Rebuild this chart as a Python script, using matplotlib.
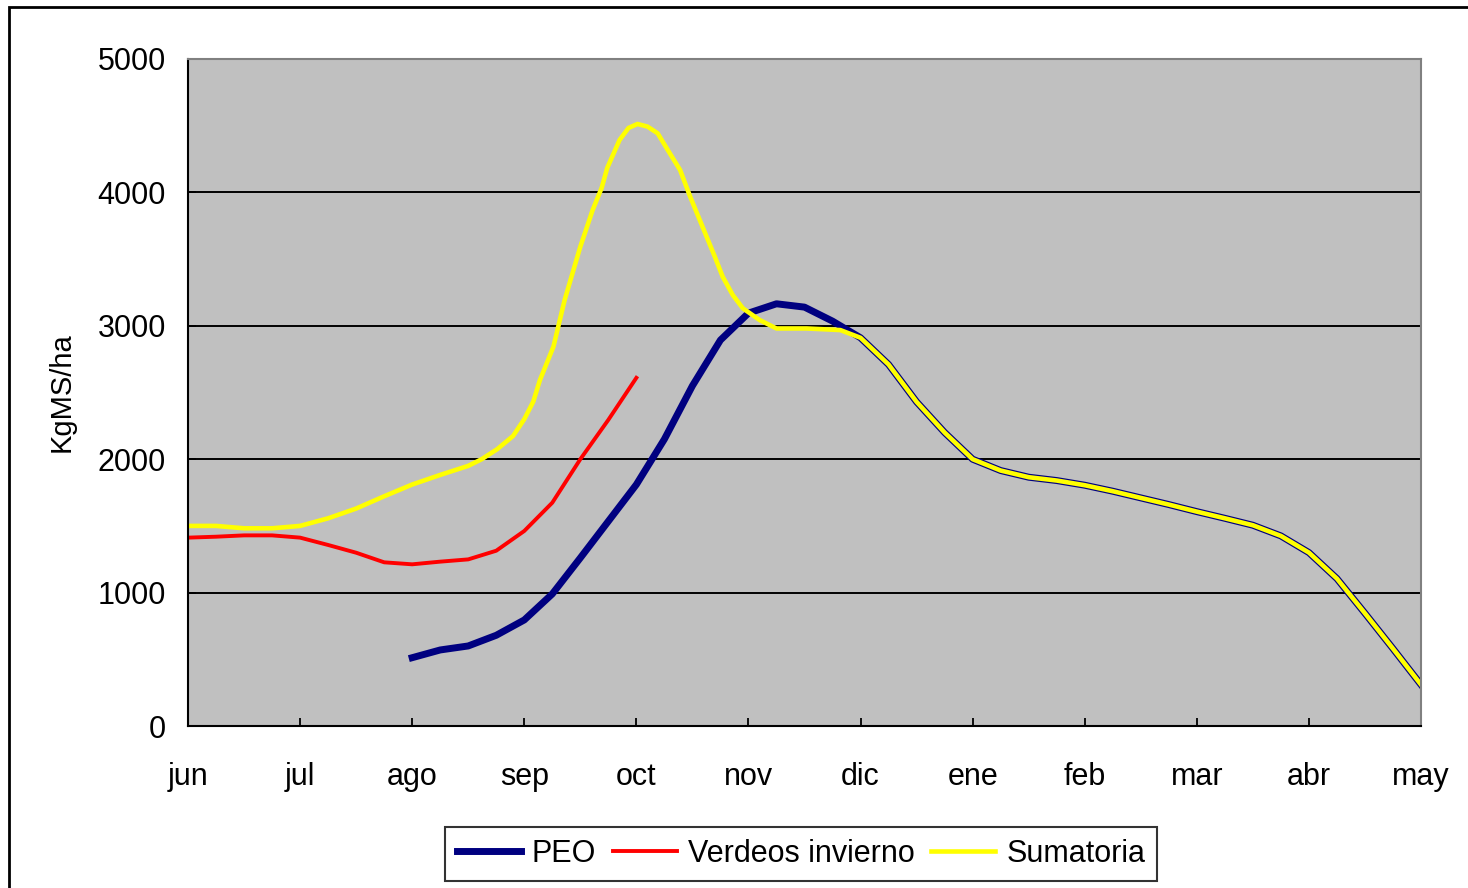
import numpy as np
import matplotlib
matplotlib.use("Agg")
import matplotlib.pyplot as plt

plt.rcParams["font.family"] = ["Liberation Sans", "DejaVu Sans"]

# month axis labels (jun .. may)
months = ["jun", "jul", "ago", "sep", "oct", "nov", "dic",
          "ene", "feb", "mar", "abr", "may"]

# PEO, quarter-month steps from ago to may
peo_x = np.arange(8, 45) / 4
peo_y = [512, 570, 600, 680, 795, 990, 1260, 1535, 1810, 2150, 2550, 2893,
         3095, 3165, 3140, 3035, 2910, 2710, 2430, 2200, 2000, 1915, 1865,
         1840, 1805, 1760, 1710, 1660, 1607, 1557, 1505, 1425, 1300, 1105,
         845, 580, 310]

# Verdeos invierno, quarter-month steps from jun to oct
verdeos_x = np.arange(0, 17) / 4
verdeos_y = [1412, 1419, 1429, 1429, 1412, 1357, 1299, 1227, 1212, 1232,
             1249, 1314, 1462, 1674, 2000, 2295, 2610]

# Sumatoria
suma_x = [0, 0.25, 0.5, 0.75, 1.0, 1.25, 1.5, 1.75, 2.0, 2.25, 2.5, 2.62,
          2.76, 2.9, 3.0, 3.08, 3.14, 3.26, 3.36, 3.5, 3.61, 3.69, 3.74,
          3.85, 3.93, 4.01, 4.1, 4.19, 4.28, 4.39, 4.48, 4.59, 4.7, 4.77,
          4.86, 4.95, 5.1, 5.25, 5.52, 5.82, 6.0, 6.25, 6.5, 6.75, 7.0,
          7.25, 7.5, 7.75, 8.0, 8.25, 8.5, 8.75, 9.0, 9.25, 9.5, 9.75,
          10.0, 10.25, 10.5, 10.75, 11.0]
suma_y = [1500, 1500, 1482, 1482, 1500, 1557, 1630, 1722, 1810, 1882, 1950,
          2000, 2076, 2174, 2300, 2431, 2594, 2843, 3193, 3593, 3868, 4033,
          4183, 4393, 4483, 4513, 4493, 4443, 4318, 4168, 3968, 3743, 3518,
          3368, 3231, 3131, 3043, 2980, 2980, 2968, 2910, 2710, 2430, 2200,
          2000, 1915, 1865, 1840, 1805, 1760, 1710, 1660, 1607, 1557, 1505,
          1425, 1300, 1105, 845, 580, 310]

fig = plt.figure(figsize=(14.68, 8.88), dpi=100)
ax = fig.add_axes([188 / 1468, 1 - 726 / 888, 1233 / 1468, 667 / 888])
ax.set_facecolor("#c0c0c0")

# outer chart frame (runs off the right and bottom edges)
fig.patches.append(plt.Rectangle((9 / 1468, -0.5), 2, 1.5 - 7 / 888,
                                 transform=fig.transFigure, fill=False,
                                 ec="black", lw=2))

ax.plot(peo_x, peo_y, color="#000080", lw=5.0, label="PEO",
        solid_joinstyle="round")
ax.plot(verdeos_x, verdeos_y, color="#ff0000", lw=2.8,
        label="Verdeos invierno")
ax.plot(suma_x, suma_y, color="#ffff00", lw=3.3, label="Sumatoria")

ax.set_xlim(0, 11)
ax.set_ylim(0, 5000)
ax.set_xticks(range(12))
ax.set_xticklabels(months)
ax.set_yticks(range(0, 5001, 1000))
ax.yaxis.grid(True, color="black", lw=1.4)
ax.set_axisbelow(True)
ax.tick_params(direction="in", length=6, width=1.3, labelsize=22,
               colors="black")
ax.tick_params(axis="y", pad=16)
ax.tick_params(axis="x", pad=26)

for side in ["top", "right"]:
    ax.spines[side].set_color("#808080")
    ax.spines[side].set_linewidth(1.5)
for side in ["left", "bottom"]:
    ax.spines[side].set_color("black")
    ax.spines[side].set_linewidth(1.5)

ax.set_ylabel("KgMS/ha", fontsize=21)
ax.yaxis.set_label_coords(-0.091, 0.5)

leg = fig.legend(loc="center", bbox_to_anchor=(801 / 1468, 1 - 854 / 888),
                 ncol=3, fontsize=22, frameon=True, fancybox=False,
                 handlelength=2.1, handletextpad=0.35, columnspacing=0.55,
                 borderpad=0.4)
leg.get_frame().set_edgecolor("black")
leg.get_frame().set_linewidth(1.5)

fig.savefig("out.png", dpi=100)
